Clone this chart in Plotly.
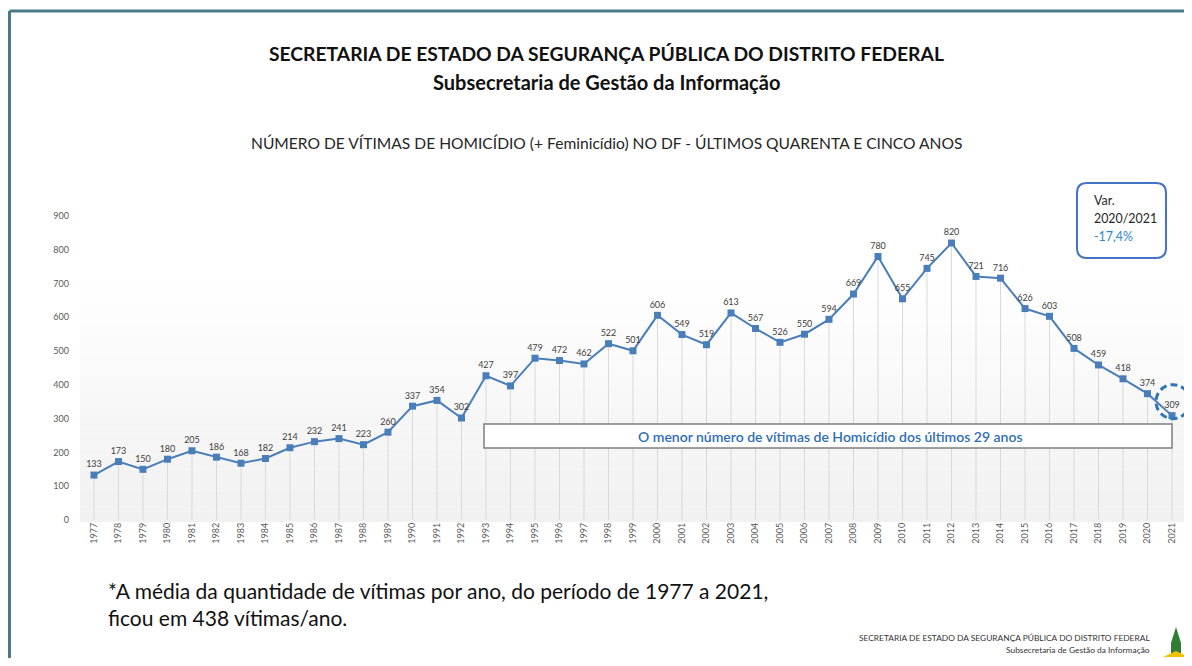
import plotly.graph_objects as go

years = [str(y) for y in range(1977, 2022)]
victims = [133, 173, 150, 180, 205, 186, 168, 182, 214, 232,
           241, 223, 260, 337, 354, 302, 427, 397, 479, 472,
           462, 522, 501, 606, 549, 519, 613, 567, 526, 550,
           594, 669, 780, 655, 745, 820, 721, 716, 626, 603,
           508, 459, 418, 374, 309]
y_ticks = [0, 100, 200, 300, 400, 500, 600, 700, 800, 900]
marked_year = "1992"
last_year = "2021"

# the page body adds an 8px margin on every side; keep the figure inside the window
OFF = 8
W, H = 1192 - OFF, 666 - 2 * OFF
PLOT_L, PLOT_R, PLOT_T, PLOT_B = 80, 1185, 216, 520   # screen pixels
ML, MR, MT, MB = PLOT_L - OFF, OFF + W - PLOT_R, PLOT_T - OFF, H - (PLOT_B - OFF)
PW, PH = W - ML - MR, H - MT - MB
X_RANGE = [-0.57, len(years) - 1 + 0.53]
Y_RANGE = [0, 900]


def px(X):
    return (X - OFF - ML) / PW


def py(Y):
    return (H - MB - (Y - OFF)) / PH


FONT = "Lato"
LINE = "#4a7ebb"

fig = go.Figure()

# drop lines (from each point down to zero)
fig.add_trace(go.Scatter(
    x=years, y=victims, mode="markers",
    marker=dict(size=1, color="rgba(0,0,0,0)"),
    error_y=dict(type="data", symmetric=False, array=[0] * len(victims),
                 arrayminus=victims, color="#d9d9d9", thickness=1, width=0),
    hoverinfo="skip", showlegend=False))

positions = ["top center"] * len(years)
fig.add_trace(go.Scatter(
    x=years, y=victims, mode="lines+markers+text",
    line=dict(color=LINE, width=2),
    marker=dict(symbol="square", size=7, color=LINE),
    text=[str(v) for v in victims], textposition=positions,
    textfont=dict(family=FONT, size=9, color="#404040"),
    cliponaxis=False, showlegend=False))

shapes = []
# gradient plot background
n = 24
for i in range(n):
    t = i / (n - 1)
    g = int(round(255 - (255 - 241) * t))
    shapes.append(dict(type="rect", xref="paper", yref="paper",
                       x0=0, x1=1, y0=py(270 + 252 * (i + 1) / n), y1=py(270 + 252 * i / n),
                       fillcolor=f"rgb({g},{g},{g})", line=dict(width=0), layer="below"))

# dashed marker line at 1992
idx = years.index(marked_year)
shapes.append(dict(type="line", xref="x", yref="y", x0=marked_year, x1=marked_year,
                   y0=0, y1=victims[idx], line=dict(color="#5b9bd5", width=1.2, dash="dot")))

# dashed circle around last value (anchored via data, paper refs so it is not clipped)
li = years.index(last_year)
x_anchor = (li - X_RANGE[0]) / (X_RANGE[1] - X_RANGE[0])
y_anchor = (victims[li] - Y_RANGE[0]) / (Y_RANGE[1] - Y_RANGE[0])
shapes.append(dict(type="circle", xref="paper", yref="paper", xsizemode="pixel", ysizemode="pixel",
                   xanchor=x_anchor, yanchor=y_anchor,
                   x0=-16, x1=18, y0=-3, y1=31,
                   line=dict(color="#2e75b6", width=3, dash="7px,4px")))

# text box
shapes.append(dict(type="rect", xref="paper", yref="paper",
                   x0=px(484), x1=px(1172), y0=py(448), y1=py(424),
                   fillcolor="white", line=dict(color="#7f7f7f", width=1.5)))

# rounded Var box
x0, x1, y0, y1, r = 1077, 1166, 183, 258, 10
def P(X, Y):
    return f"{px(X):.5f},{py(Y):.5f}"
path = (f"M {P(x0 + r, y0)} L {P(x1 - r, y0)} Q {P(x1, y0)} {P(x1, y0 + r)} "
        f"L {P(x1, y1 - r)} Q {P(x1, y1)} {P(x1 - r, y1)} "
        f"L {P(x0 + r, y1)} Q {P(x0, y1)} {P(x0, y1 - r)} "
        f"L {P(x0, y0 + r)} Q {P(x0, y0)} {P(x0 + r, y0)} Z")
shapes.append(dict(type="path", xref="paper", yref="paper", path=path,
                   fillcolor="white", line=dict(color="#4472c4", width=2)))

# slide frame
shapes.append(dict(type="line", xref="paper", yref="paper", x0=px(9.5), x1=px(1192),
                   y0=py(11), y1=py(11), line=dict(color="#4a7a88", width=3)))
shapes.append(dict(type="line", xref="paper", yref="paper", x0=px(9.5), x1=px(9.5),
                   y0=py(11), y1=py(666), line=dict(color="#4a7a88", width=3)))

# small logo
shapes.append(dict(type="path", xref="paper", yref="paper",
                   path=f"M {P(1176, 627)} L {P(1181, 643)} L {P(1171, 643)} Z",
                   fillcolor="#2e7d32", line=dict(width=0)))
shapes.append(dict(type="rect", xref="paper", yref="paper",
                   x0=px(1171), x1=px(1181), y0=py(654), y1=py(643),
                   fillcolor="#2e7d32", line=dict(width=0)))
shapes.append(dict(type="path", xref="paper", yref="paper",
                   path=f"M {P(1163, 657)} L {P(1189, 657)} L {P(1176, 651)} Z",
                   fillcolor="#f2c200", line=dict(width=0)))

ann = []
def A(X, Y, text, size, color="#000000", bold=False, xanchor="center", yanchor="middle", weight=None):
    ann.append(dict(xref="paper", yref="paper", x=px(X), y=py(Y), text=text,
                    showarrow=False, xanchor=xanchor, yanchor=yanchor,
                    font=dict(family=FONT, size=size, color=color,
                              weight=weight or ("bold" if bold else "normal"))))

A(606, 53, "SECRETARIA DE ESTADO DA SEGURANÇA PÚBLICA DO DISTRITO FEDERAL", 19.3, "#111111", True)
A(606, 82, "Subsecretaria de Gestão da Informação", 20, "#111111", True)
A(606, 143, "NÚMERO DE VÍTIMAS DE HOMICÍDIO (+ Feminicídio) NO DF - ÚLTIMOS QUARENTA E CINCO ANOS", 15.6, "#262626")
A(830, 436, "O menor número de vítimas de Homicídio dos últimos 29 anos", 14, "#2e6db4", weight=600)
A(1092, 201, "Var.", 12.4, "#262626", xanchor="left")
A(1092, 219, "2020/2021", 12.4, "#262626", xanchor="left")
A(1092, 236, "-17,4%", 12.4, "#2e86d4", xanchor="left")
A(106, 590, "*A média da quantidade de vítimas por ano, do período de 1977 a 2021,", 21, "#111111", xanchor="left")
A(106, 617, "ficou em 438 vítimas/ano.", 21, "#111111", xanchor="left")
A(1152, 638, "SECRETARIA DE ESTADO DA SEGURANÇA PÚBLICA DO DISTRITO FEDERAL", 8.4, "#333333", xanchor="right")
A(1152, 650, "Subsecretaria de Gestão da Informação", 8.4, "#333333", xanchor="right")

fig.update_layout(
    width=W, height=H, margin=dict(l=ML, r=MR, t=MT, b=MB, autoexpand=False),
    paper_bgcolor="white", plot_bgcolor="rgba(0,0,0,0)",
    shapes=shapes, annotations=ann,
    xaxis=dict(type="category", categoryorder="array", categoryarray=years,
               range=X_RANGE, showgrid=False, zeroline=False,
               tickangle=-90, tickfont=dict(family=FONT, size=9, color="#595959"),
               ticks="", showline=False),
    yaxis=dict(range=Y_RANGE, tickvals=y_ticks, showgrid=False, zeroline=False,
               tickfont=dict(family=FONT, size=9, color="#595959"), ticks="",
               ticklabelstandoff=10, showline=False),
    font=dict(family=FONT),
)

fig.write_html("out.html")
